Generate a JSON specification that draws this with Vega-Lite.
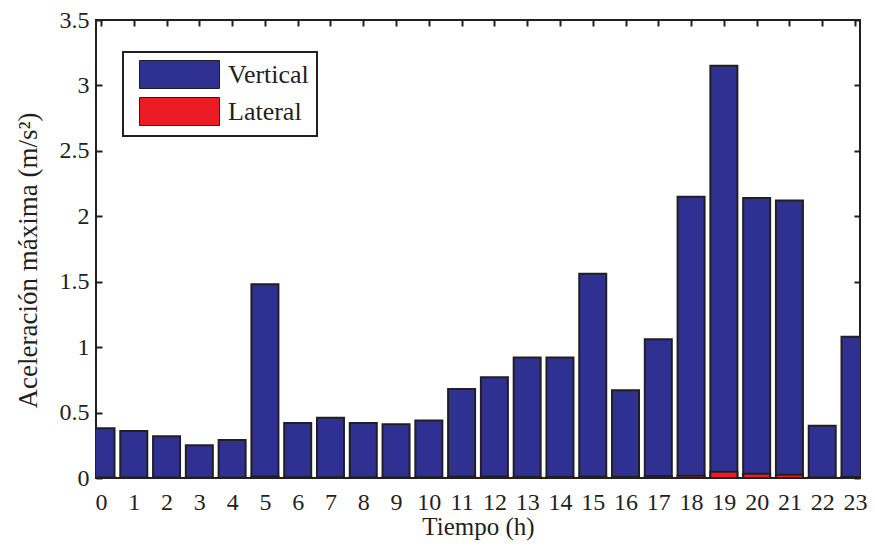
{
  "$schema": "https://vega.github.io/schema/vega-lite/v6.json",
  "width": 764,
  "height": 458,
  "autosize": {"type": "none"},
  "padding": {"left": 96, "top": 20, "right": 15, "bottom": 70},
  "background": "white",
  "config": {
    "font": "Liberation Serif",
    "view": {"stroke": "#231F20", "strokeWidth": 2},
    "axis": {
      "grid": false,
      "domain": false,
      "labelFont": "Liberation Serif",
      "labelFontSize": 24,
      "labelColor": "#231F20",
      "titleFont": "Liberation Serif",
      "titleFontSize": 25,
      "titleFontWeight": "normal",
      "titleColor": "#231F20",
      "tickColor": "#231F20",
      "tickWidth": 2,
      "labelFlush": false,
      "labelOverlap": false
    }
  },
  "data": {
    "values": [
      {"hora": 0, "serie": "Vertical", "valor": 0.38},
      {"hora": 1, "serie": "Vertical", "valor": 0.36},
      {"hora": 2, "serie": "Vertical", "valor": 0.32},
      {"hora": 3, "serie": "Vertical", "valor": 0.25},
      {"hora": 4, "serie": "Vertical", "valor": 0.29},
      {"hora": 5, "serie": "Vertical", "valor": 1.48},
      {"hora": 6, "serie": "Vertical", "valor": 0.42},
      {"hora": 7, "serie": "Vertical", "valor": 0.46},
      {"hora": 8, "serie": "Vertical", "valor": 0.42},
      {"hora": 9, "serie": "Vertical", "valor": 0.41},
      {"hora": 10, "serie": "Vertical", "valor": 0.44},
      {"hora": 11, "serie": "Vertical", "valor": 0.68},
      {"hora": 12, "serie": "Vertical", "valor": 0.77},
      {"hora": 13, "serie": "Vertical", "valor": 0.92},
      {"hora": 14, "serie": "Vertical", "valor": 0.92},
      {"hora": 15, "serie": "Vertical", "valor": 1.56},
      {"hora": 16, "serie": "Vertical", "valor": 0.67},
      {"hora": 17, "serie": "Vertical", "valor": 1.06},
      {"hora": 18, "serie": "Vertical", "valor": 2.15},
      {"hora": 19, "serie": "Vertical", "valor": 3.15},
      {"hora": 20, "serie": "Vertical", "valor": 2.14},
      {"hora": 21, "serie": "Vertical", "valor": 2.12},
      {"hora": 22, "serie": "Vertical", "valor": 0.40},
      {"hora": 23, "serie": "Vertical", "valor": 1.08},
      {"hora": 0, "serie": "Lateral", "valor": 0.005},
      {"hora": 1, "serie": "Lateral", "valor": 0.004},
      {"hora": 2, "serie": "Lateral", "valor": 0.004},
      {"hora": 3, "serie": "Lateral", "valor": 0.003},
      {"hora": 4, "serie": "Lateral", "valor": 0.003},
      {"hora": 5, "serie": "Lateral", "valor": 0.012},
      {"hora": 6, "serie": "Lateral", "valor": 0.006},
      {"hora": 7, "serie": "Lateral", "valor": 0.006},
      {"hora": 8, "serie": "Lateral", "valor": 0.005},
      {"hora": 9, "serie": "Lateral", "valor": 0.005},
      {"hora": 10, "serie": "Lateral", "valor": 0.006},
      {"hora": 11, "serie": "Lateral", "valor": 0.01},
      {"hora": 12, "serie": "Lateral", "valor": 0.012},
      {"hora": 13, "serie": "Lateral", "valor": 0.008},
      {"hora": 14, "serie": "Lateral", "valor": 0.008},
      {"hora": 15, "serie": "Lateral", "valor": 0.01},
      {"hora": 16, "serie": "Lateral", "valor": 0.008},
      {"hora": 17, "serie": "Lateral", "valor": 0.015},
      {"hora": 18, "serie": "Lateral", "valor": 0.018},
      {"hora": 19, "serie": "Lateral", "valor": 0.048},
      {"hora": 20, "serie": "Lateral", "valor": 0.033},
      {"hora": 21, "serie": "Lateral", "valor": 0.025},
      {"hora": 22, "serie": "Lateral", "valor": 0.005},
      {"hora": 23, "serie": "Lateral", "valor": 0.008}
    ]
  },
  "layer": [
    {
      "transform": [{"filter": "datum.serie === 'Vertical'"}],
      "mark": {"type": "bar", "size": 27, "stroke": "#231F20", "strokeWidth": 2, "clip": true},
      "encoding": {
        "x": {
          "field": "hora", "type": "quantitative",
          "scale": {"domain": [0, 23], "nice": false, "zero": false},
          "axis": {"orient": "bottom", "values": [0,1,2,3,4,5,6,7,8,9,10,11,12,13,14,15,16,17,18,19,20,21,22,23], "ticks": false, "labelPadding": 12, "title": "Tiempo (h)", "titlePadding": 0}
        },
        "y": {
          "field": "valor", "type": "quantitative",
          "scale": {"domain": [0, 3.5], "nice": false},
          "axis": {"orient": "left", "values": [0, 0.5, 1, 1.5, 2, 2.5, 3, 3.5], "format": "~g", "tickSize": -6, "labelPadding": 13, "title": "Aceleración máxima (m/s²)", "titleFontSize": 27, "titlePadding": 17, "titleY": 240}
        },
        "color": {
          "field": "serie", "type": "nominal",
          "scale": {"domain": ["Vertical", "Lateral"], "range": ["#2E3192", "#ED1C24"]},
          "legend": {
            "orient": "none", "legendX": 27, "legendY": 32, "title": null,
            "symbolType": "M-0.429,-1H5.286V1H-0.429Z", "symbolSize": 784,
            "symbolStrokeColor": "#231F20", "symbolStrokeWidth": 1, "symbolOpacity": 1,
            "labelFont": "Liberation Serif", "labelFontSize": 26, "labelColor": "#231F20",
            "labelOffset": 68, "rowPadding": 4, "padding": 8,
            "strokeColor": "#231F20", "fillColor": "white",
            "encode": {"legend": {"update": {"strokeWidth": {"value": 2}}}}
          }
        }
      }
    },
    {
      "transform": [{"filter": "datum.serie === 'Lateral'"}],
      "mark": {"type": "bar", "size": 27, "stroke": "#231F20", "strokeWidth": 2, "clip": true},
      "encoding": {
        "x": {
          "field": "hora", "type": "quantitative",
          "axis": {"orient": "top", "values": [0,1,2,3,4,5,6,7,8,9,10,11,12,13,14,15,16,17,18,19,20,21,22,23], "labels": false, "tickSize": -6, "title": null}
        },
        "y": {
          "field": "valor", "type": "quantitative",
          "axis": {"orient": "right", "values": [0, 0.5, 1, 1.5, 2, 2.5, 3, 3.5], "labels": false, "tickSize": -6, "title": null}
        },
        "color": {"field": "serie", "type": "nominal"}
      }
    }
  ],
  "resolve": {"axis": {"x": "independent", "y": "independent"}}
}
